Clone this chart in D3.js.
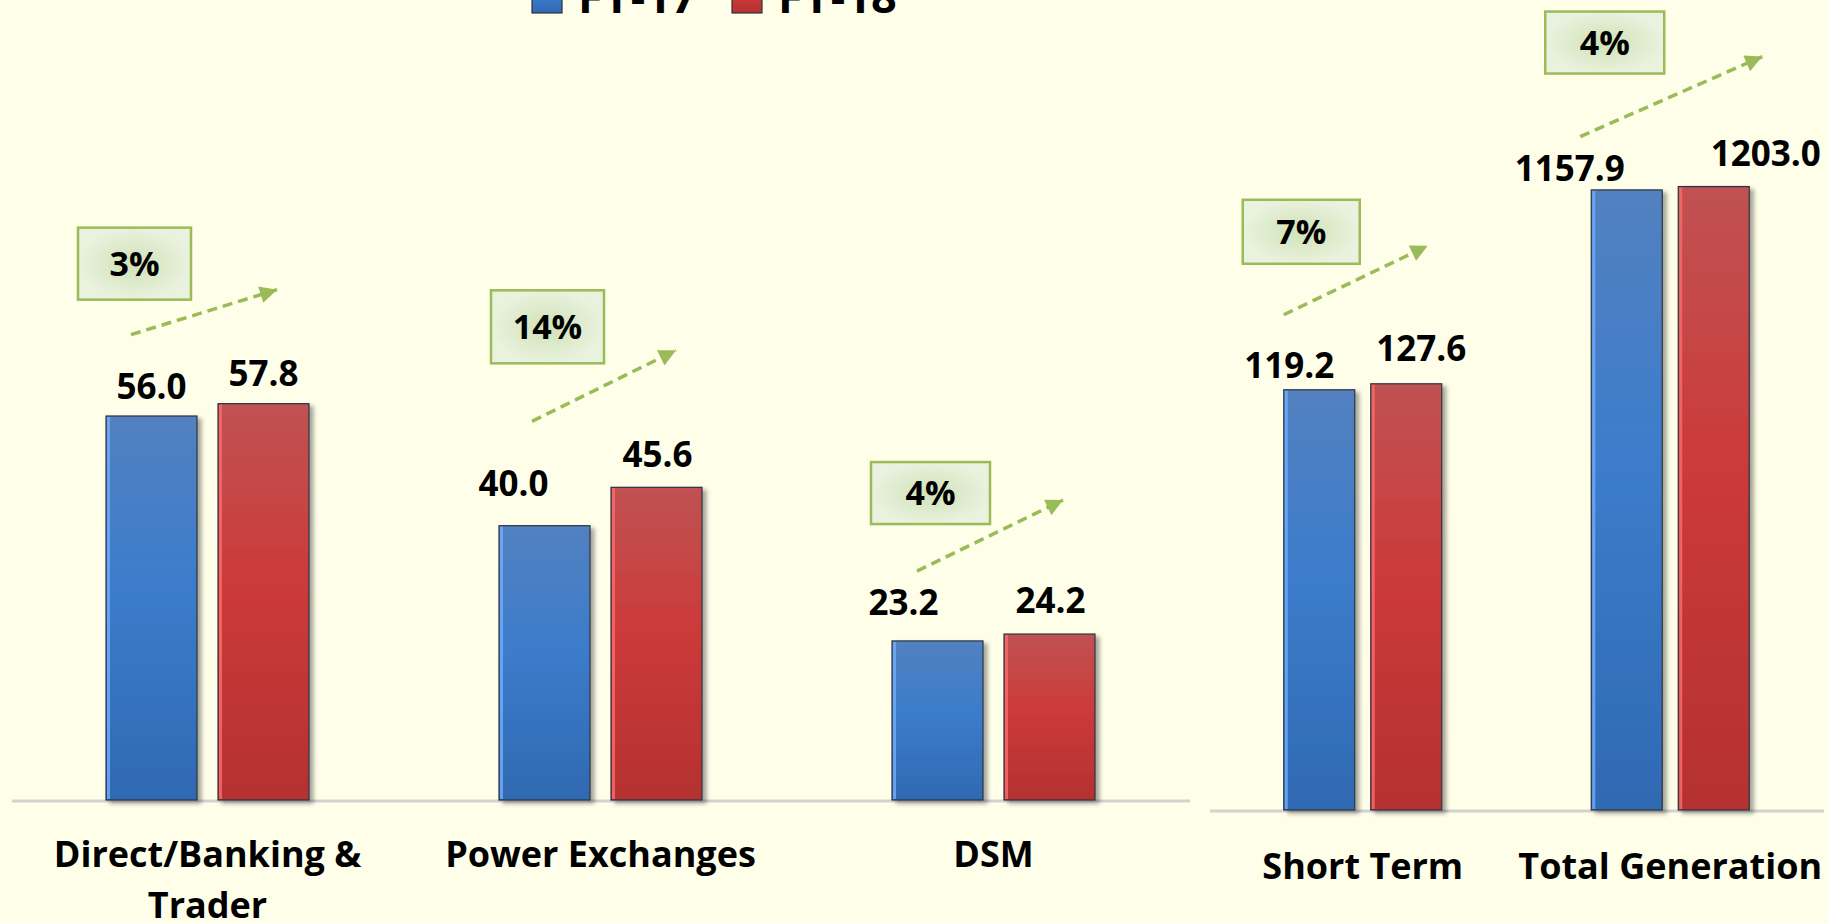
<!DOCTYPE html>
<html>
<head>
<meta charset="utf-8">
<script src="https://cdn.jsdelivr.net/npm/d3@7"></script>
<style>
  body { margin: 0; background: #fefee9; overflow: hidden; }
  text { font-family: "Open Sans", "Noto Sans", sans-serif; font-weight: 700; fill: #000; }
</style>
</head>
<body>
<svg id="chart"></svg>
<script>
// series
const seriesNames = ['FY-17', 'FY-18'];

// left panel
const leftCategories = ['Direct/Banking & Trader', 'Power Exchanges', 'DSM'];
const leftFY17 = [56.0, 40.0, 23.2];
const leftFY18 = [57.8, 45.6, 24.2];
const leftGrowth = ['3%', '14%', '4%'];

// right panel
const rightCategories = ['Short Term', 'Total Generation'];
const rightFY17 = [119.2, 1157.9];
const rightFY18 = [127.6, 1203.0];
const rightGrowth = ['7%', '4%'];

const W = 1828, H = 923;

const svg = d3.select('#chart')
    .attr('width', W)
    .attr('height', H);

svg.append('rect')
    .attr('width', W)
    .attr('height', H)
    .attr('fill', '#fefee9');

const defs = svg.append('defs');

// bar gradients
function vGrad(id, stops) {
  const g = defs.append('linearGradient').attr('id', id)
      .attr('x1', 0).attr('y1', 0).attr('x2', 0).attr('y2', 1);
  stops.forEach(s => g.append('stop').attr('offset', s[0]).attr('stop-color', s[1]));
}
vGrad('blueGrad', [[0, '#5281c0'], [0.45, '#3c7ccb'], [1, '#2f69b2']]);
vGrad('redGrad', [[0, '#c05252'], [0.45, '#cc3a3a'], [1, '#b53131']]);

const boxGrad = defs.append('radialGradient').attr('id', 'boxGrad');
boxGrad.append('stop').attr('offset', 0).attr('stop-color', '#cfe2b6');
boxGrad.append('stop').attr('offset', 1).attr('stop-color', '#e9f2de');

const shadow = defs.append('filter').attr('id', 'shadow')
    .attr('x', '-10%').attr('y', '-10%').attr('width', '130%').attr('height', '130%');
shadow.append('feDropShadow')
    .attr('dx', 4).attr('dy', 3).attr('stdDeviation', 2)
    .attr('flood-color', '#000').attr('flood-opacity', 0.35);

defs.append('marker')
    .attr('id', 'arrow')
    .attr('viewBox', '0 0 10 10')
    .attr('refX', 10).attr('refY', 5)
    .attr('markerUnits', 'userSpaceOnUse')
    .attr('markerWidth', 19).attr('markerHeight', 17)
    .attr('orient', 'auto')
  .append('path')
    .attr('d', 'M0,0 L10,5 L0,10 z')
    .attr('fill', '#9bbb59');

const fills = ['url(#blueGrad)', 'url(#redGrad)'];
const edges = ['rgba(110,170,250,0.85)', 'rgba(250,105,105,0.85)'];

function wrap(text, width, lh) {
  text.each(function() {
    const t = d3.select(this);
    const words = t.text().split(/\s+/).reverse();
    const y = t.attr('y');
    const dy = parseFloat(t.attr('dy')) || 0;
    let line = [], n = 0, word;
    let tspan = t.text(null).append('tspan').attr('x', 0).attr('y', y).attr('dy', dy + 'em');
    while ((word = words.pop())) {
      line.push(word);
      tspan.text(line.join(' '));
      if (tspan.node().getComputedTextLength() > width && line.length > 1) {
        line.pop();
        tspan.text(line.join(' '));
        line = [word];
        tspan = t.append('tspan').attr('x', 0).attr('y', y)
            .attr('dy', (++n * lh + dy) + 'em').text(word);
      }
    }
  });
}

function drawPanel(p) {
  const x0 = d3.scaleBand().domain(p.categories).range(p.xRange);
  const x1 = d3.scaleBand().domain(seriesNames)
      .range([(x0.bandwidth() - p.groupWidth) / 2, (x0.bandwidth() + p.groupWidth) / 2])
      .paddingInner(p.barGap);
  const y = p.y;
  const base = y.range()[0];

  const rows = p.categories.map((c, i) => ({
    cat: c, i: i, vals: [p.fy17[i], p.fy18[i]], growth: p.growth[i]
  }));

  // baseline
  svg.append('line')
      .attr('x1', p.xRange[0] + 1).attr('x2', p.xRange[1])
      .attr('y1', base + 1).attr('y2', base + 1)
      .attr('stroke', '#d2d2d2').attr('stroke-width', 3);

  // category axis
  const axis = svg.append('g')
      .attr('transform', 'translate(0,' + base + ')')
      .call(d3.axisBottom(x0).tickSize(0).tickPadding(p.labelPad));
  axis.select('.domain').remove();
  axis.selectAll('text')
      .attr('font-size', 36)
      .style('font-family', '"Open Sans", sans-serif')
      .style('font-weight', 700)
      .attr('fill', '#000')
      .call(wrap, 345, 1.42);

  const groups = svg.selectAll(null)
      .data(rows)
      .enter()
      .append('g')
      .attr('transform', d => 'translate(' + x0(d.cat) + ',0)');

  const bars = groups.selectAll('g.bar')
      .data(d => d.vals.map((v, k) => ({ v: v, k: k, i: d.i })))
      .enter()
      .append('g')
      .attr('class', 'bar');

  bars.append('rect')
      .attr('x', d => x1(seriesNames[d.k]))
      .attr('y', d => y(d.v))
      .attr('width', x1.bandwidth())
      .attr('height', d => base - y(d.v))
      .attr('fill', d => fills[d.k])
      .attr('stroke', '#2c3340')
      .attr('stroke-width', 1.2)
      .attr('filter', 'url(#shadow)');

  bars.append('rect')
      .attr('x', d => x1(seriesNames[d.k]) + 1)
      .attr('y', d => y(d.v) + 1)
      .attr('width', 3)
      .attr('height', d => base - y(d.v) - 2)
      .attr('fill', d => edges[d.k]);

  // value labels
  bars.append('text')
      .attr('x', d => x1(seriesNames[d.k]) + x1.bandwidth() / 2 + p.nudge[d.k][d.i][0])
      .attr('y', d => y(d.v) - p.nudge[d.k][d.i][1])
      .attr('text-anchor', 'middle')
      .attr('font-size', 35)
      .text(d => d3.format('.1f')(d.v));

  // growth boxes and arrows
  groups.each(function(d) {
    const g = d3.select(this);
    const n = p.notes[d.i];
    const left = x1(seriesNames[0]);
    const top = y(d3.max(d.vals));
    g.append('line')
        .attr('x1', left + n[4]).attr('y1', top + n[5])
        .attr('x2', left + n[6]).attr('y2', top + n[7])
        .attr('stroke', '#9bbb59')
        .attr('stroke-width', 3.5)
        .attr('stroke-dasharray', '10,6')
        .attr('marker-end', 'url(#arrow)');
    g.append('rect')
        .attr('x', left + n[0]).attr('y', top + n[1])
        .attr('width', n[2]).attr('height', n[3])
        .attr('fill', 'url(#boxGrad)')
        .attr('stroke', '#9bbb59')
        .attr('stroke-width', 2.5);
    g.append('text')
        .attr('x', left + n[0] + n[2] / 2)
        .attr('y', top + n[1] + n[3] / 2)
        .attr('dy', '0.36em')
        .attr('text-anchor', 'middle')
        .attr('font-size', 34)
        .text(d.growth);
  });
}

drawPanel({
  categories: leftCategories,
  fy17: leftFY17, fy18: leftFY18, growth: leftGrowth,
  xRange: [11, 1190],
  groupWidth: 203, barGap: 0.1875,
  y: d3.scaleLinear().domain([0, 70]).range([800, 320]),
  labelPad: 41,
  // [dx, gap above bar] for each series, each category
  nudge: [
    [[0, 17], [-31, 30], [-34, 26]],
    [[0, 18], [1, 20], [1, 21]]
  ],
  // box dx, dy, w, h, arrow x1, y1, x2, y2 (relative to group / tallest bar)
  notes: [
    [-28, -176, 113, 72, 25, -69, 171, -114],
    [-8, -197, 113, 73, 33, -66, 177, -137],
    [-21, -172, 119, 62, 25, -63, 171, -134]
  ]
});

drawPanel({
  categories: rightCategories,
  fy17: rightFY17, fy18: rightFY18, growth: rightGrowth,
  xRange: [1209, 1824],
  groupWidth: 158, barGap: 0.184,
  y: d3.scaleLog().domain([1, 10000]).range([810, 0.4]),
  labelPad: 43,
  nudge: [
    [[-30, 12], [-57, 9]],
    [[15, 23], [52, 21]]
  ],
  notes: [
    [-41, -184, 117, 64, 0, -69, 144, -138],
    [-46, -175, 119, 62, -11, -50, 171, -130]
  ]
});

// legend (cut off at the top edge)
const legend = svg.selectAll(null)
    .data(seriesNames)
    .enter()
    .append('g')
    .attr('transform', (d, i) => 'translate(' + (532 + i * 200) + ',0)');

legend.append('rect')
    .attr('y', -17)
    .attr('width', 30)
    .attr('height', 30)
    .attr('fill', (d, i) => fills[i])
    .attr('stroke', '#2c3340')
    .attr('stroke-width', 1.2);

legend.append('text')
    .attr('x', 46)
    .attr('y', 13)
    .attr('font-size', 45)
    .text(d => d);
</script>
</body>
</html>
